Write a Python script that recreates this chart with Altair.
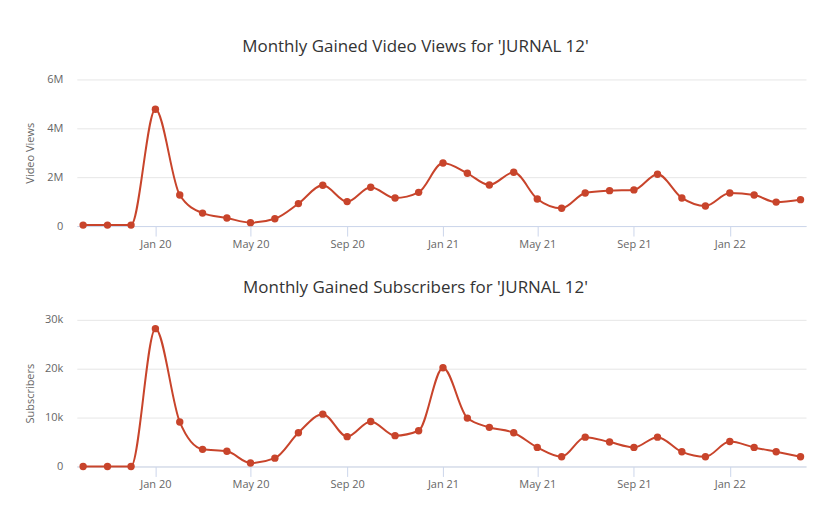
import altair as alt
import pandas as pd

months = [
    "2019-10", "2019-11", "2019-12", "2020-01", "2020-02", "2020-03", "2020-04",
    "2020-05", "2020-06", "2020-07", "2020-08", "2020-09", "2020-10", "2020-11",
    "2020-12", "2021-01", "2021-02", "2021-03", "2021-04", "2021-05", "2021-06",
    "2021-07", "2021-08", "2021-09", "2021-10", "2021-11", "2021-12", "2022-01",
    "2022-02", "2022-03", "2022-04",
]
views = [
    40000, 40000, 40000, 4780000, 1270000, 530000, 330000,
    140000, 300000, 920000, 1670000, 1000000, 1590000, 1150000,
    1380000, 2580000, 2160000, 1680000, 2200000, 1110000, 730000,
    1350000, 1450000, 1480000, 2120000, 1150000, 820000, 1350000,
    1270000, 980000, 1080000,
]
subs = [
    0, 0, 0, 28200, 9100, 3500, 3100,
    700, 1700, 6900, 10700, 6100, 9200, 6300,
    7300, 20200, 9900, 8000, 6900, 3900, 2000,
    6000, 5000, 3900, 6000, 3000, 2000, 5100,
    3900, 3000, 2000,
]
tick_months = ["2020-01", "2020-05", "2020-09", "2021-01", "2021-05", "2021-09", "2022-01"]

df = pd.DataFrame({
    "month": [m + "-01T00:00:00" for m in months],
    "views": views,
    "subs": subs,
})

COLOR = "#c8442b"
W, H = 731, 147

def dt(s):
    y, m = s.split("-")
    return alt.DateTime(year=int(y), month=int(m), date=1)

xaxis = alt.Axis(
    values=[dt(m) for m in tick_months], format="%b %y", title=None,
    grid=False, domainColor="#ccd6eb", tickColor="#ccd6eb", tickSize=10,
    labelColor="#666666", labelFontSize=11, labelPadding=2, labelFont="Open Sans",
)
xscale = alt.Scale(domain=[alt.DateTime(year=2019, month=9, date=23),
                           alt.DateTime(year=2022, month=4, date=8)])

def panel(field, ytitle, dom, vals, expr, title):
    base = alt.Chart(df).encode(
        x=alt.X("month:T", axis=xaxis, scale=xscale),
        y=alt.Y(f"{field}:Q", scale=alt.Scale(domain=dom, nice=False),
                axis=alt.Axis(values=vals, labelExpr=expr, title=ytitle,
                              domain=False, ticks=False, gridColor="#e6e6e6",
                              labelColor="#666666", labelFontSize=11, labelPadding=14,
                              labelFont="Open Sans",
                              titleColor="#666666", titleFontSize=11, titleFontWeight="normal",
                              titleFont="Open Sans", titlePadding=9,
                              minExtent=32, maxExtent=32)),
    )
    line = base.mark_line(color=COLOR, strokeWidth=2, interpolate="monotone")
    pts = base.mark_circle(color=COLOR, size=55, opacity=1)
    return (line + pts).properties(
        width=W, height=H,
        title=alt.TitleParams(title, fontSize=17, font="Open Sans", fontWeight="normal",
                              color="#333333", anchor="middle", frame="bounds", offset=17),
    )

top = panel("views", "Video Views", [0, 6000000], [0, 2000000, 4000000, 6000000],
            "datum.value == 0 ? '0' : (datum.value / 1000000) + 'M'",
            "Monthly Gained Video Views for 'JURNAL 12'")
bot = panel("subs", "Subscribers", [0, 30000], [0, 10000, 20000, 30000],
            "datum.value == 0 ? '0' : (datum.value / 1000) + 'k'",
            "Monthly Gained Subscribers for 'JURNAL 12'")

chart = alt.vconcat(top, bot, spacing=30).properties(
    padding={"left": 17, "top": 30, "right": 5, "bottom": 5}
).configure_view(stroke=None)

chart.save("out.html", embed_options={"renderer": "svg", "actions": False})
